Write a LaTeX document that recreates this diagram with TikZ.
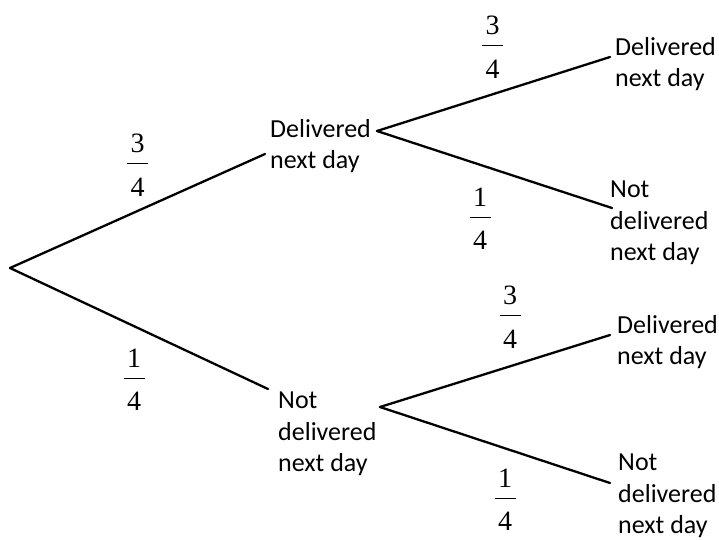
\documentclass[tikz,border=0pt]{standalone}
\usepackage{fontspec}
\setmainfont{Carlito}
\newfontfamily\fracfont{Liberation Serif}
% stacked fraction: numerator, bar, denominator
\newcommand\pfrac[2]{\vbox{\offinterlineskip\halign{\kern3.5pt\hfil##\hfil\kern3.5pt\cr #1\cr\noalign{\vskip 10pt\hrule height 1pt\vskip 14pt}#2\cr}}}
\tikzset{
  branch/.style={line width=2.3pt, line cap=round},
  outcome/.style={anchor=north west, inner sep=0pt, align=left,
    font=\fontsize{26}{31.5}\selectfont, execute at begin node=\strut},
  prob/.style={inner sep=0pt, yshift=-2pt, font=\fracfont\fontsize{28}{30}\selectfont}
}
\begin{document}
\begin{tikzpicture}[x=1pt, y=-1pt]
\useasboundingbox (0,0) rectangle (719,539);
% branch points
\coordinate (root) at (10,268);
\coordinate (d1) at (265,154);
\coordinate (n1) at (268,389);
\coordinate (d2) at (377,131);
\coordinate (n2) at (380,407);
\coordinate (dd) at (610,57);
\coordinate (dn) at (612,208);
\coordinate (nd) at (610,335);
\coordinate (nn) at (610,483);
% outcomes, placed by their first baseline (strut height 22.05)
\node[outcome] (tD)  at (270,141-22.05) {Delivered\\next day};
\node[outcome] (tN)  at (278,414-22.05) {Not\\delivered\\next day};
\node[outcome] (tDD) at (615,59-22.05) {Delivered\\next day};
\node[outcome] (tDN) at (610,203-22.05) {Not\\delivered\\next day};
\node[outcome] (tND) at (617,337-22.05) {Delivered\\next day};
\node[outcome] (tNN) at (618,476-22.05) {Not\\delivered\\next day};
% branches
\draw[branch] (root) -- (d1);
\draw[branch] (root) -- (n1);
\draw[branch] (d2) -- (dd);
\draw[branch] (d2) -- (dn);
\draw[branch] (n2) -- (nd);
\draw[branch] (n2) -- (nn);
% probabilities (placed by the fraction bar)
\node[prob] (p1) at (137.5,163) {\pfrac{3}{4}};
\node[prob] (p2) at (134,378) {\pfrac{1}{4}};
\node[prob] (p3) at (492.5,45) {\pfrac{3}{4}};
\node[prob] (p4) at (480,217) {\pfrac{1}{4}};
\node[prob] (p5) at (510,315) {\pfrac{3}{4}};
\node[prob] (p6) at (505,498) {\pfrac{1}{4}};
\end{tikzpicture}
\end{document}
